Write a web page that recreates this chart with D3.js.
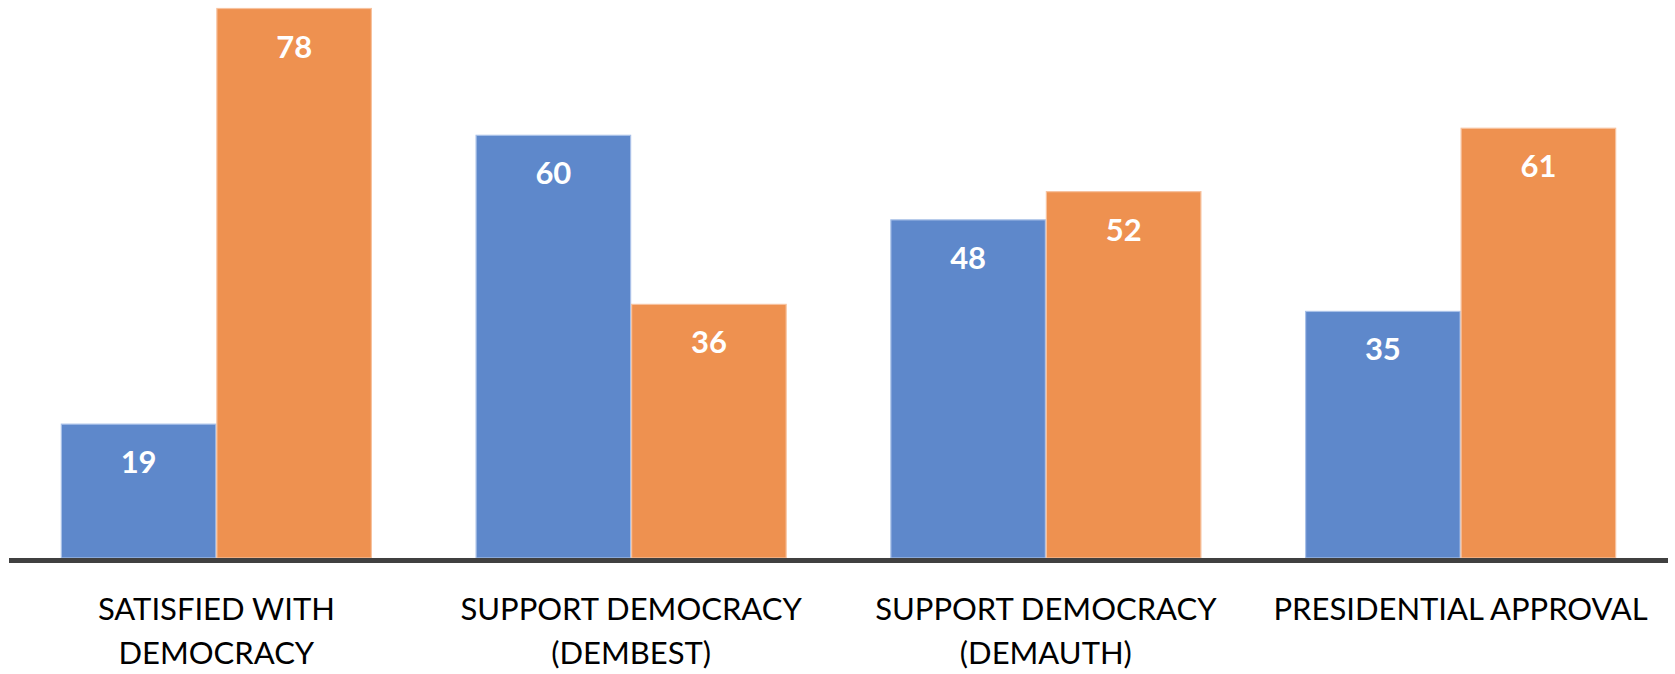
<!DOCTYPE html>
<html>
<head>
<meta charset="utf-8">
<script src="https://cdn.jsdelivr.net/npm/d3@7"></script>
<style>
  html, body { margin: 0; padding: 0; background: #ffffff; }
  svg { display: block; }
</style>
</head>
<body>
<svg id="chart" width="1675" height="674"></svg>
<script>
// ---- data ----
const categories = [
  ["SATISFIED WITH", "DEMOCRACY"],
  ["SUPPORT DEMOCRACY", "(DEMBEST)"],
  ["SUPPORT DEMOCRACY", "(DEMAUTH)"],
  ["PRESIDENTIAL APPROVAL"]
];
const seriesNames = ["Series 1", "Series 2"];
const series1 = [19, 60, 48, 35];
const series2 = [78, 36, 52, 61];
const seriesColors = ["#5E88CB", "#EE9150"];
const seriesStroke = ["#A9C1E8", "#F7C29E"];

// ---- layout ----
const W = 1675, H = 674;
const axisLeft = 9, axisRight = 1668, baseY = 558;
const svg = d3.select("#chart");

const keys = categories.map((c, i) => "c" + i);
const x0 = d3.scaleBand().domain(keys).range([axisLeft, axisRight])
  .paddingInner(0.25).paddingOuter(0.125);
const x1 = d3.scaleBand().domain([0, 1]).range([0, x0.bandwidth()]).padding(0);
const y = d3.scaleLinear().domain([0, 78]).range([baseY, 8.5]);

const rows = categories.map((c, i) => ({ key: keys[i], vals: [series1[i], series2[i]] }));

const groups = svg.append("g").selectAll("g").data(rows).join("g")
  .attr("transform", d => `translate(${x0(d.key)},0)`);

groups.selectAll("rect").data(d => d.vals.map((v, s) => ({ v, s }))).join("rect")
  .attr("x", d => x1(d.s) + 0.5)
  .attr("y", d => y(d.v))
  .attr("width", x1.bandwidth() - 1)
  .attr("height", d => y(0) - y(d.v))
  .attr("fill", d => seriesColors[d.s])
  .attr("stroke", d => seriesStroke[d.s])
  .attr("stroke-width", 1.2);

groups.selectAll("text.val").data(d => d.vals.map((v, s) => ({ v, s }))).join("text")
  .attr("class", "val")
  .attr("x", d => x1(d.s) + x1.bandwidth() / 2)
  .attr("y", d => y(d.v) + 49)
  .attr("text-anchor", "middle")
  .attr("fill", "#ffffff")
  .attr("font-family", "Lato, 'Open Sans', sans-serif")
  .attr("font-weight", "bold")
  .attr("font-size", 31)
  .text(d => d.v);

// axis baseline
const xAxis = d3.axisBottom(x0).tickSize(0).tickFormat("");
const ax = svg.append("g").attr("transform", `translate(0,${baseY + 2.5})`).call(xAxis);
ax.select(".domain").attr("stroke", "#404040").attr("stroke-width", 5)
  .attr("d", `M${axisLeft},0H${axisRight}`);

// category labels
const lab = svg.append("g");
rows.forEach((r, i) => {
  const t = lab.append("text")
    .attr("text-anchor", "middle")
    .attr("font-family", "Lato, 'Open Sans', sans-serif")
    .attr("font-size", 31)
    .attr("fill", "#000000");
  categories[i].forEach((line, j) => {
    t.append("tspan")
      .attr("x", x0(r.key) + x0.bandwidth() / 2)
      .attr("y", 620 + j * 44)
      .text(line);
  });
});
</script>
</body>
</html>
